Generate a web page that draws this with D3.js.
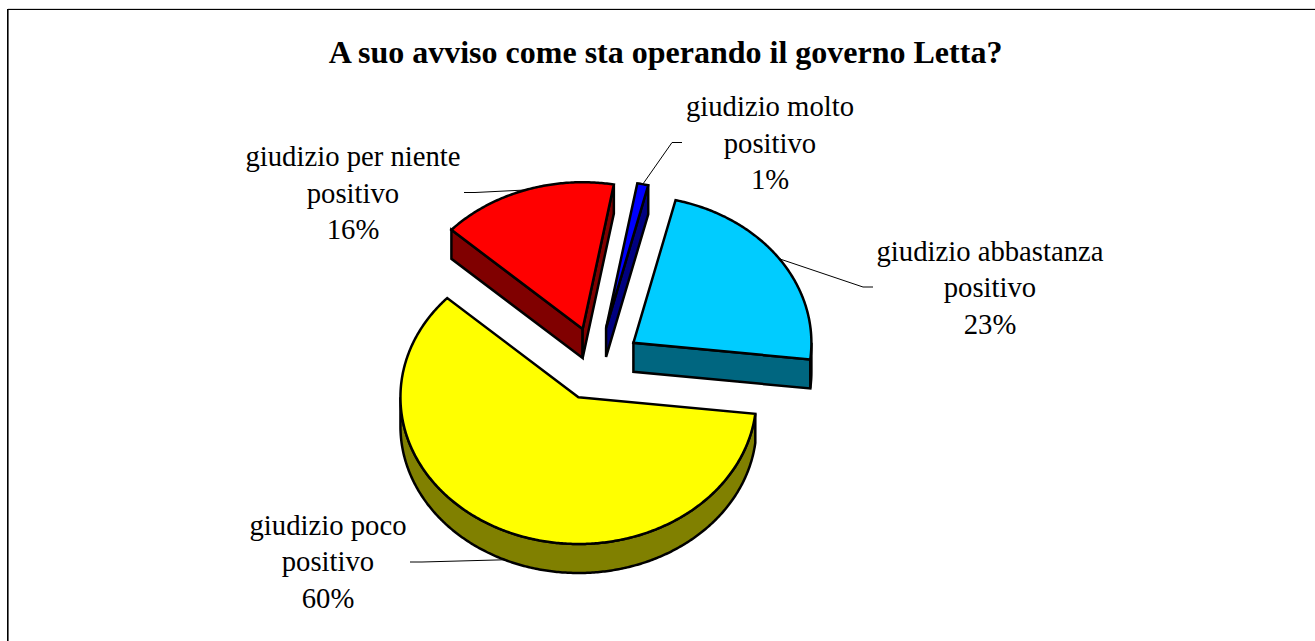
<!DOCTYPE html>
<html>
<head>
<meta charset="utf-8">
<script src="https://cdn.jsdelivr.net/npm/d3@7/dist/d3.min.js"></script>
<style>
  html, body { margin: 0; padding: 0; background: #fff; }
  svg { display: block; }
  text { font-family: "Liberation Serif", "Times New Roman", serif; fill: #000; }
</style>
</head>
<body>
<script>
// Survey answers, clockwise from the top of the pie
const categories = ["giudizio molto", "giudizio abbastanza", "giudizio poco", "giudizio per niente"];
const percentages = [1, 23, 60, 16];
const topColors = ["#0000ff", "#00ccff", "#ffff00", "#ff0000"];
const sideColors = ["#000080", "#006680", "#808000", "#800000"];
const chartTitle = "A suo avviso come sta operando il governo Letta?";

const width = 1315, height = 641;

// Pie geometry: tilted disc seen from above
const cx = 596.9, cy = 363.8, rx = 178, ry = 146.8, depth = 29, explode = 0.25;
const firstAngle = 10.1 * Math.PI / 180;
const halfPi = Math.PI / 2, tau = Math.PI * 2;

// Label blocks and the elbows of their leader lines
const labelLayout = [
  { x: 770, y: 116, elbow: [672, 142.5], end: [682, 142.5], drop: false },
  { x: 990, y: 260.5, elbow: [863, 287], end: [873, 287], drop: false },
  { x: 328, y: 534.5, elbow: [422, 562], end: [410, 562], drop: true },
  { x: 353, y: 166, elbow: [475, 192.5], end: [464, 192.5], drop: false }
];

const svg = d3.select("body").append("svg")
  .attr("width", width).attr("height", height);

// Frame: only the top and left edges fall inside the view
svg.append("rect").attr("x", 8).attr("y", 8).attr("width", width - 8).attr("height", 1).attr("fill", "#d8d8d8");
svg.append("rect").attr("x", 8).attr("y", 10).attr("width", 1).attr("height", height - 10).attr("fill", "#666");
svg.append("rect").attr("x", 7).attr("y", 9).attr("width", width - 7).attr("height", 1).attr("fill", "#000");
svg.append("rect").attr("x", 7).attr("y", 9).attr("width", 1).attr("height", height - 9).attr("fill", "#000");

svg.append("text")
  .attr("x", 665.5).attr("y", 63)
  .attr("text-anchor", "middle")
  .attr("font-size", 32).attr("font-weight", "bold")
  .text(chartTitle);

const pie = d3.pie().sort(null)
  .startAngle(firstAngle).endAngle(firstAngle + tau);
const arcs = pie(percentages).map((d, i) => {
  const mid = (d.startAngle + d.endAngle) / 2;
  return {
    ...d, i, mid,
    ax: cx + explode * rx * Math.sin(mid),
    ay: cy - explode * ry * Math.cos(mid)
  };
});

const rimPoint = (s, a, drop = 0) => [
  s.ax + rx * Math.sin(a),
  s.ay - ry * Math.cos(a) + drop
];
const rimPoints = (s, a0, a1, drop = 0) => {
  const n = Math.max(2, Math.ceil((a1 - a0) / 0.01));
  return d3.range(n + 1).map(k => rimPoint(s, a0 + (a1 - a0) * k / n, drop));
};
const closed = d3.line().curve(d3.curveLinearClosed);

const slices = svg.append("g")
  .attr("stroke", "#000").attr("stroke-width", 2.5).attr("stroke-linejoin", "miter");

// Radial cut faces that turn toward the viewer
arcs.forEach(s => {
  const face = a => closed([
    [s.ax, s.ay], rimPoint(s, a), rimPoint(s, a, depth), [s.ax, s.ay + depth]
  ]);
  if (Math.sin(s.startAngle) < 0)
    slices.append("path").attr("d", face(s.startAngle)).attr("fill", sideColors[s.i]);
  if (Math.sin(s.endAngle) > 0)
    slices.append("path").attr("d", face(s.endAngle)).attr("fill", sideColors[s.i]);
});

// Outer wall: the part of each rim on the near half of the disc
arcs.forEach(s => {
  for (const turn of [0, tau]) {
    const a0 = Math.max(s.startAngle, halfPi + turn);
    const a1 = Math.min(s.endAngle, 3 * halfPi + turn);
    if (a1 > a0) {
      const outline = rimPoints(s, a0, a1).concat(rimPoints(s, a0, a1, depth).reverse());
      slices.append("path").attr("d", closed(outline)).attr("fill", sideColors[s.i]);
    }
  }
});

// Top faces
arcs.forEach(s => {
  slices.append("path")
    .attr("d", closed([[s.ax, s.ay], ...rimPoints(s, s.startAngle, s.endAngle)]))
    .attr("fill", topColors[s.i]);
});

// Leader lines and three-line labels
arcs.forEach(s => {
  const l = labelLayout[s.i];
  const start = rimPoint(s, s.mid, l.drop ? depth : 0);
  svg.append("path")
    .attr("d", d3.line()([start, l.elbow, l.end]))
    .attr("fill", "none").attr("stroke", "#000").attr("stroke-width", 1);
  const t = svg.append("text").attr("text-anchor", "middle").attr("font-size", 28.7);
  [categories[s.i], "positivo", percentages[s.i] + "%"].forEach((line, k) => {
    t.append("tspan").attr("x", l.x).attr("y", l.y + k * 36.6).text(line);
  });
});
</script>
</body>
</html>
